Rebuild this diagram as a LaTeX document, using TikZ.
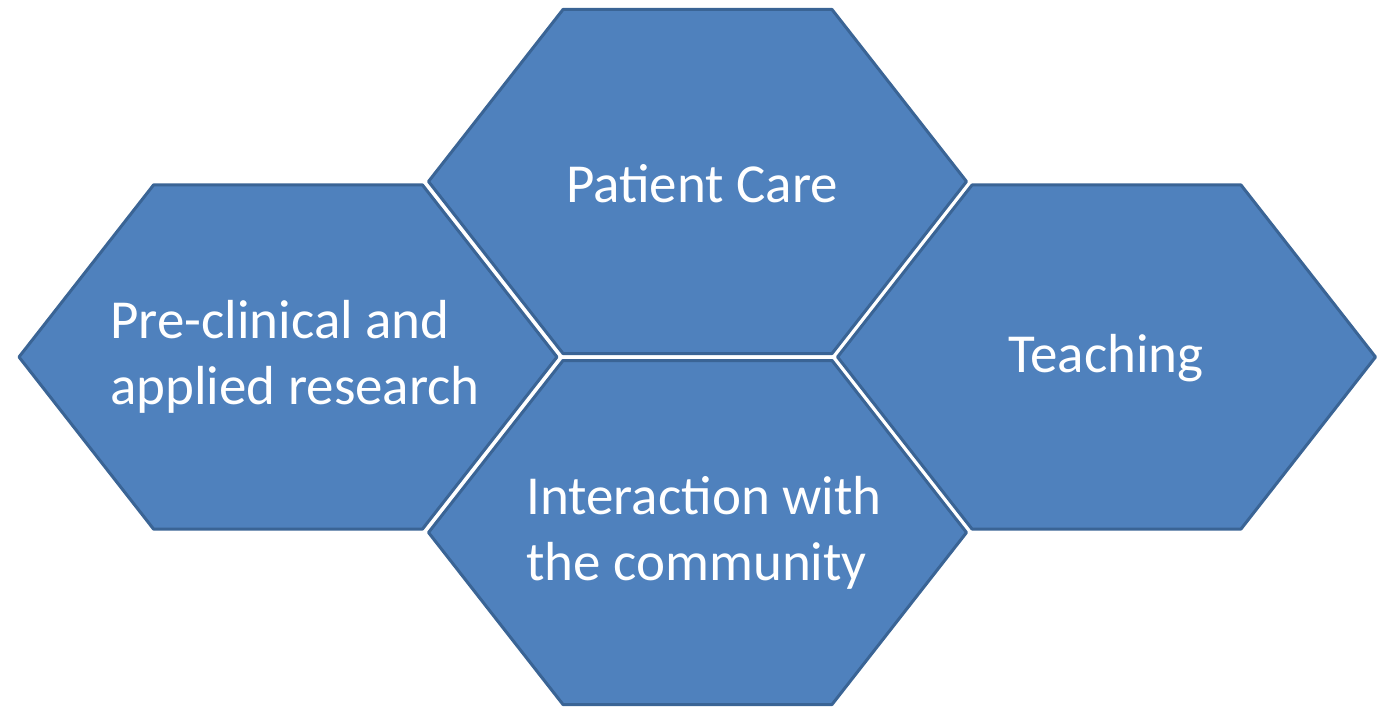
\documentclass[tikz,border=0pt]{standalone}
\usepackage{fontspec}
\setmainfont{Carlito}
\definecolor{hexfill}{HTML}{4F81BD}
\definecolor{hexline}{HTML}{3A6495}
\tikzset{
  hexbody/.style={fill=hexfill, draw=hexline, line width=3pt, line join=round},
  hexlabel/.style={text=white, font=\fontsize{55}{66}\selectfont, align=left, inner sep=0pt}
}
\newcommand{\hexcell}[2]{%
  \path[hexbody] (#1-269,#2) -- (#1-134.5,#2-172) -- (#1+134.5,#2-172) -- (#1+269,#2)
    -- (#1+134.5,#2+172) -- (#1-134.5,#2+172) -- cycle;
}
\begin{document}
\begin{tikzpicture}[x=1pt,y=-1pt]
  \useasboundingbox (0,0) rectangle (1388,708);
  \hexcell{697.5}{181.5}
  \hexcell{288}{357}
  \hexcell{1106.5}{357}
  \hexcell{697.5}{532.5}
  \node[hexlabel] (care) at (702,184) {Patient Care};
  \node[hexlabel] (research) at (295,357) {Pre-clinical and\\applied research};
  \node[hexlabel] (teaching) at (1106,358) {Teaching};
  \node[hexlabel] (community) at (704,533) {Interaction with\\the community};
\end{tikzpicture}
\end{document}
